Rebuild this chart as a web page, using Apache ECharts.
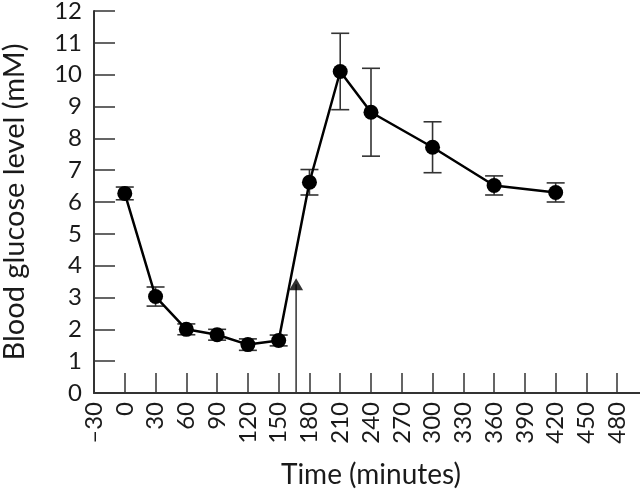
<!DOCTYPE html>
<html><head><meta charset="utf-8">
<script src="https://cdn.jsdelivr.net/npm/echarts@6/dist/echarts.min.js"></script>
<style>html,body{margin:0;padding:0;background:#fff}#c{width:640px;height:494px}</style>
</head><body><div id="c"></div>
<script>
const times = [0, 30, 60, 90, 120, 150, 180, 210, 240, 300, 360, 420];
const glucose = [6.27, 3.03, 2.0, 1.83, 1.52, 1.65, 6.62, 10.1, 8.82, 7.72, 6.52, 6.3];
const errors = [0.2, 0.3, 0.17, 0.17, 0.18, 0.17, 0.4, 1.2, 1.38, 0.8, 0.3, 0.3];
const arrowTime = [167];
const arrowLevel = [3.42];

const font = 'Lato, "Open Sans", sans-serif';
const pts = times.map((t, i) => [t, glucose[i]]);
const errData = times.map((t, i) => [t, glucose[i] - errors[i], glucose[i] + errors[i]]);

const chart = echarts.init(document.getElementById('c'));
chart.setOption({
  animation: false,
  grid: { left: 94, top: 11, bottom: 101, right: -8, containLabel: false, outerBoundsMode: 'none' },
  xAxis: {
    type: 'value', min: -30, max: 510, interval: 30,
    name: 'Time (minutes)', nameLocation: 'middle', nameGap: 68,
    nameTextStyle: { fontFamily: font, fontSize: 28, color: '#1a1a1a' },
    axisLine: { lineStyle: { color: '#333', width: 2 } },
    axisTick: { inside: true, length: 20, lineStyle: { color: '#333', width: 1.5 } },
    axisLabel: {
      rotate: 90, margin: 9, fontFamily: font, fontSize: 24, color: '#1a1a1a',
      formatter: v => v > 480 ? '' : String(v).replace('-', '–')
    },
    splitLine: { show: false }
  },
  yAxis: {
    type: 'value', min: 0, max: 12, interval: 1,
    name: 'Blood glucose level (mM)', nameLocation: 'middle', nameGap: 65,
    nameTextStyle: { fontFamily: font, fontSize: 29, color: '#1a1a1a' },
    axisLine: { show: true, onZero: false, lineStyle: { color: '#333', width: 2 } },
    axisTick: { show: true, inside: true, length: 21, lineStyle: { color: '#333', width: 1.5 } },
    axisLabel: { margin: 12, fontFamily: font, fontSize: 24, color: '#1a1a1a' },
    splitLine: { show: false }
  },
  series: [
    {
      type: 'custom',
      data: errData,
      z: 2,
      renderItem: (params, api) => {
        const x = api.value(0);
        const lo = api.coord([x, api.value(1)]);
        const hi = api.coord([x, api.value(2)]);
        const w = 9;
        const st = { stroke: '#333', lineWidth: 1.6 };
        return { type: 'group', children: [
          { type: 'line', shape: { x1: lo[0], y1: lo[1], x2: hi[0], y2: hi[1] }, style: st },
          { type: 'line', shape: { x1: lo[0] - w, y1: lo[1], x2: lo[0] + w, y2: lo[1] }, style: st },
          { type: 'line', shape: { x1: hi[0] - w, y1: hi[1], x2: hi[0] + w, y2: hi[1] }, style: st }
        ] };
      }
    },
    {
      type: 'line', data: pts, z: 3,
      symbol: 'circle', symbolSize: 15,
      lineStyle: { color: '#000', width: 2.5 },
      itemStyle: { color: '#000' }
    },
    {
      type: 'line', data: [[arrowTime[0], 0], [arrowTime[0], arrowLevel[0]]], z: 2,
      symbol: 'none', lineStyle: { color: '#333', width: 1.5 }
    },
    {
      type: 'scatter', data: [[arrowTime[0], arrowLevel[0]]], z: 4,
      symbol: 'triangle', symbolSize: [14, 12],
      itemStyle: { color: '#000' }
    }
  ]
});
</script></body></html>
